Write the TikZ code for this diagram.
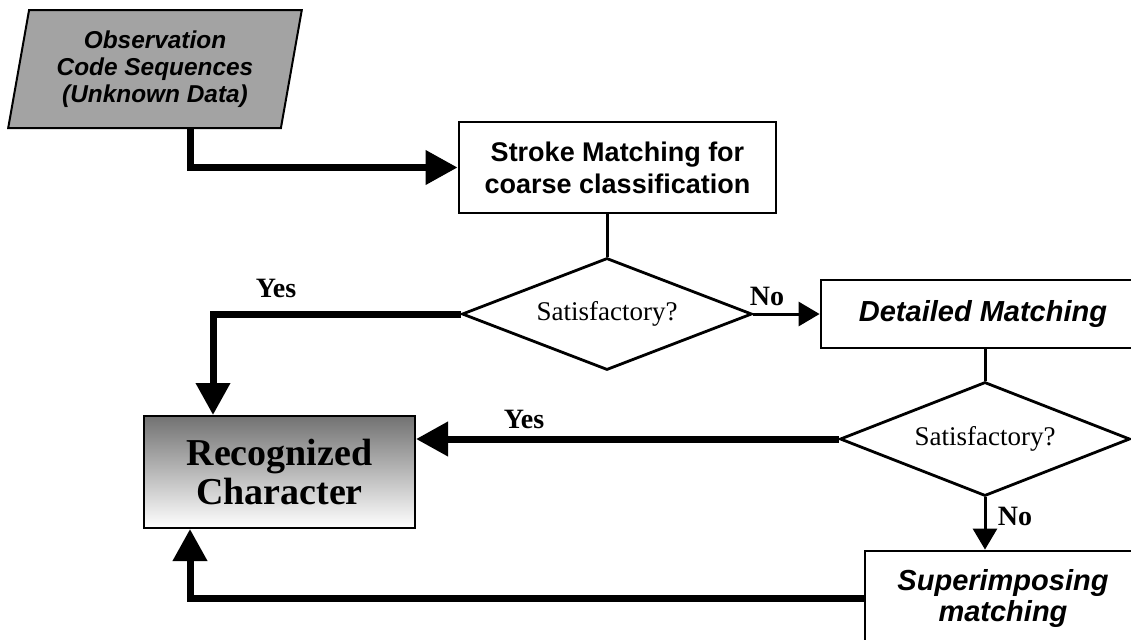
\documentclass[tikz,border=0pt]{standalone}
\usepackage{fontspec}
\setmainfont{Liberation Serif}
\setsansfont{Liberation Sans}
\usetikzlibrary{positioning, arrows.meta, shapes.geometric}
\definecolor{IO_Gray}{HTML}{A3A3A3}
\definecolor{Rec_Gray}{HTML}{727272}

\begin{document}
\begin{tikzpicture}[
  x=0.5pt, y=-0.5pt, every node/.style={inner sep=0pt},
  procbox/.style={draw, line width=1.4pt, fill=white, align=center,
    font=\sffamily\bfseries\fontsize{13.5}{16}\selectfont},
  iobox/.style={trapezium, trapezium left angle=78, trapezium right angle=102,
    trapezium stretches=true, draw, line width=1pt, fill=IO_Gray, align=center,
    font=\sffamily\bfseries\itshape\fontsize{12.2}{13.5}\selectfont},
  decision/.style={diamond, aspect=2.6, draw, line width=1.4pt, fill=white,
    minimum width=145pt, minimum height=56pt, font=\fontsize{13.5}{16}\selectfont},
  answer/.style={font=\bfseries\fontsize{14}{16}\selectfont, anchor=base},
  thickarr/.style={line width=3.5pt, -{Triangle[length=16pt, width=16.5pt]}},
  thinarr/.style={line width=1.5pt, -{Triangle[length=10.5pt, width=12pt]}},
  thinline/.style={line width=1.5pt}
]
  \useasboundingbox (0,0) rectangle (1131,639);

  % Input data
  \node[iobox, minimum width=147pt, minimum height=59pt] (obs) at (155,69)
    {Observation\\Code Sequences\\(Unknown Data)};

  % Coarse stage
  \node[procbox, minimum width=158.5pt, minimum height=45.5pt] (stroke) at (617.5,167.5)
    {Stroke Matching for\\coarse classification};
  \node[decision] (dec1) at (607,314) {Satisfactory?};

  % Detailed stage
  \node[procbox, minimum width=162pt, minimum height=34pt,
    font=\sffamily\bfseries\itshape\fontsize{14.5}{16}\selectfont] (detail) at (983,314)
    {Detailed Matching};
  \node[decision, minimum height=57pt] (dec2) at (985,439) {Satisfactory?};

  % Superimposing stage
  \node[procbox, minimum width=138pt, minimum height=47pt,
    font=\sffamily\bfseries\itshape\fontsize{14.5}{15.5}\selectfont] (super) at (1003,598)
    {Superimposing\\matching};

  % Result
  \node[draw, line width=1pt, top color=Rec_Gray, bottom color=white,
    minimum width=135.5pt, minimum height=56pt, align=center,
    font=\bfseries\fontsize{19}{19.5}\selectfont] (rec) at (279.5,472)
    {Recognized\\Character};

  % Answers
  \node[answer] (yes1) at (276,297) {Yes};
  \node[answer] (no1) at (767,305) {No};
  \node[answer] (yes2) at (524,428) {Yes};
  \node[answer] (no2) at (1015,525) {No};

  % Arrows
  \draw[thickarr] ([xshift=17.5pt]obs.south) |- (stroke.west);
  \draw[thinline] (dec1.north |- stroke.south) -- (dec1.north);
  \draw[thickarr] (dec1.west) -| ([xshift=-33.25pt]rec.north);
  \draw[thinarr] (dec1.east) -- (detail.west);
  \draw[thinline] (dec2.north |- detail.south) -- (dec2.north);
  \draw[thickarr] (dec2.west) -- (dec2.west -| rec.east);
  \draw[thinarr] (dec2.south) -- (dec2.south |- super.north);
  \draw[thickarr] (super.west) -| ([xshift=-44.75pt]rec.south);
\end{tikzpicture}
\end{document}
